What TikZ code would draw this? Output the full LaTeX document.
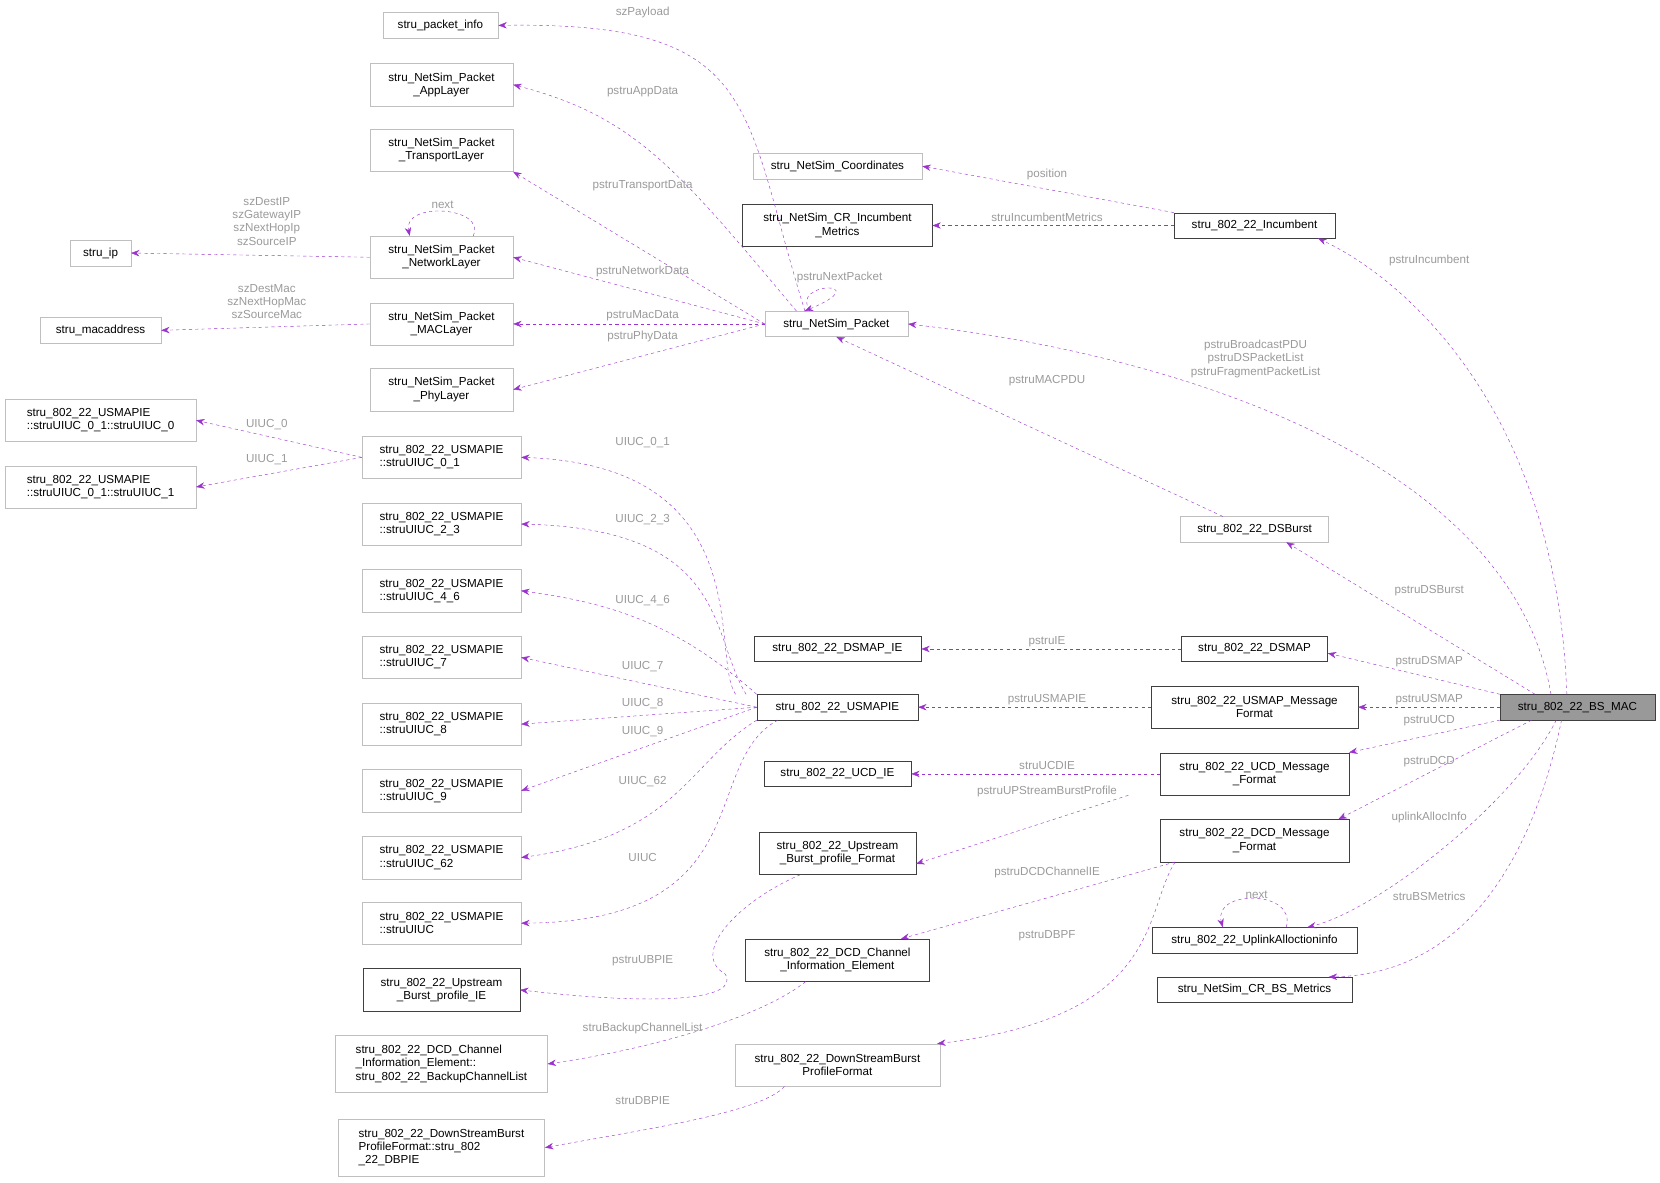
\documentclass[tikz,border=0pt]{standalone}
\usepackage{fontspec}
\setmainfont{Liberation Sans}
\usetikzlibrary{arrows.meta}
\definecolor{ep}{HTML}{9A32CD}
\definecolor{lg}{HTML}{9A9A9A}
\definecolor{lb}{HTML}{BFBFBF}
\definecolor{db}{HTML}{404040}
\tikzset{
 box/.style={draw=lb,fill=white,font=\fontsize{11}{12.5}\selectfont,inner sep=2pt,align=center},
 dbox/.style={box,draw=db},
 lbl/.style={text=lg,font=\fontsize{11}{12.5}\selectfont,inner sep=0pt,align=center},
 ed/.style={draw=ep,dashed,-{Stealth[length=8pt,width=6pt]}},
}
\begin{document}
\begin{tikzpicture}[x=1pt,y=-1pt]
\useasboundingbox (0,0) rectangle (1568,1117);
% left column
\node[box,minimum width=109,minimum height=24] (pi) at (416,24) {stru\_packet\_info};
\node[box,minimum width=135,minimum height=40] (app) at (417,80) {stru\_NetSim\_Packet\\\_AppLayer};
\node[box,minimum width=135,minimum height=40] (tr) at (417,142) {stru\_NetSim\_Packet\\\_TransportLayer};
\node[box,minimum width=135,minimum height=40] (nw) at (417,243) {stru\_NetSim\_Packet\\\_NetworkLayer};
\node[box,minimum width=135,minimum height=40] (mac) at (417,306) {stru\_NetSim\_Packet\\\_MACLayer};
\node[box,minimum width=135,minimum height=40] (phy) at (417,368) {stru\_NetSim\_Packet\\\_PhyLayer};
\node[box,minimum width=57,minimum height=24] (ip) at (95,239) {stru\_ip};
\node[box,minimum width=114,minimum height=24] (ma) at (95,312) {stru\_macaddress};
\node[box,minimum width=180,minimum height=40,align=left] (u010) at (95,397) {stru\_802\_22\_USMAPIE\\::struUIUC\_0\_1::struUIUC\_0};
\node[box,minimum width=180,minimum height=40,align=left] (u011) at (95,460) {stru\_802\_22\_USMAPIE\\::struUIUC\_0\_1::struUIUC\_1};
\node[box,minimum width=150,minimum height=40,align=left] (u01) at (417,432) {stru\_802\_22\_USMAPIE\\::struUIUC\_0\_1};
\node[box,minimum width=150,minimum height=40,align=left] (u23) at (417,495) {stru\_802\_22\_USMAPIE\\::struUIUC\_2\_3};
\node[box,minimum width=150,minimum height=40,align=left] (u46) at (417,558) {stru\_802\_22\_USMAPIE\\::struUIUC\_4\_6};
\node[box,minimum width=150,minimum height=40,align=left] (u7) at (417,621) {stru\_802\_22\_USMAPIE\\::struUIUC\_7};
\node[box,minimum width=150,minimum height=40,align=left] (u8) at (417,684) {stru\_802\_22\_USMAPIE\\::struUIUC\_8};
\node[box,minimum width=150,minimum height=40,align=left] (u9) at (417,747) {stru\_802\_22\_USMAPIE\\::struUIUC\_9};
\node[box,minimum width=150,minimum height=40,align=left] (u62) at (417,810) {stru\_802\_22\_USMAPIE\\::struUIUC\_62};
\node[box,minimum width=150,minimum height=40,align=left] (uu) at (417,872) {stru\_802\_22\_USMAPIE\\::struUIUC};
\node[dbox,minimum width=148,minimum height=40] (ubie) at (417,935) {stru\_802\_22\_Upstream\\\_Burst\_profile\_IE};
\node[box,minimum width=200,minimum height=54,align=left] (bcl) at (417,1005) {stru\_802\_22\_DCD\_Channel\\\_Information\_Element::\\stru\_802\_22\_BackupChannelList};
\node[box,minimum width=195,minimum height=54,align=left] (dbpie) at (417,1084) {stru\_802\_22\_DownStreamBurst\\ProfileFormat::stru\_802\\\_22\_DBPIE};
% middle column
\node[box,minimum width=160,minimum height=24] (co) at (791,157) {stru\_NetSim\_Coordinates};
\node[dbox,minimum width=179,minimum height=40] (im) at (791,213) {stru\_NetSim\_CR\_Incumbent\\\_Metrics};
\node[box,minimum width=135,minimum height=24] (pk) at (790,306) {stru\_NetSim\_Packet};
\node[dbox,minimum width=158,minimum height=24] (dsie) at (791,613) {stru\_802\_22\_DSMAP\_IE};
\node[dbox,minimum width=152,minimum height=24] (usie) at (791,668) {stru\_802\_22\_USMAPIE};
\node[dbox,minimum width=139,minimum height=24] (ucie) at (791,731) {stru\_802\_22\_UCD\_IE};
\node[dbox,minimum width=148,minimum height=40] (ubpf) at (791,806) {stru\_802\_22\_Upstream\\\_Burst\_profile\_Format};
\node[dbox,minimum width=174,minimum height=40] (dcie) at (791,907) {stru\_802\_22\_DCD\_Channel\\\_Information\_Element};
\node[box,minimum width=194,minimum height=40] (dbpf) at (791,1006) {stru\_802\_22\_DownStreamBurst\\ProfileFormat};
% right column
\node[dbox,minimum width=152,minimum height=24] (inc) at (1185,213) {stru\_802\_22\_Incumbent};
\node[box,minimum width=140,minimum height=24] (dsb) at (1185,500) {stru\_802\_22\_DSBurst};
\node[dbox,minimum width=138,minimum height=24] (dsm) at (1185,613) {stru\_802\_22\_DSMAP};
\node[dbox,minimum width=195,minimum height=40] (usm) at (1185,668) {stru\_802\_22\_USMAP\_Message\\Format};
\node[dbox,minimum width=178,minimum height=40] (ucd) at (1185,731) {stru\_802\_22\_UCD\_Message\\\_Format};
\node[dbox,minimum width=178,minimum height=40] (dcd) at (1185,794) {stru\_802\_22\_DCD\_Message\\\_Format};
\node[dbox,minimum width=194,minimum height=24] (ua) at (1185,888) {stru\_802\_22\_UplinkAlloctioninfo};
\node[dbox,minimum width=184,minimum height=24] (bsm) at (1185,935) {stru\_NetSim\_CR\_BS\_Metrics};
\node[dbox,fill=black!40,minimum width=146,minimum height=24] (bs) at (1490,668) {stru\_802\_22\_BS\_MAC};
% edges from packet
\draw[ed] (pk.north west) ++(38,0) .. controls (700,100) and (720,20) .. (pi.east);
\draw[ed] (pk.north west) ++(30,0) .. controls (640,160) and (600,110) .. (app.east);
\draw[ed] (pk.west) -- (tr.south east);
\draw[ed] (pk.west) -- (nw.east);
\draw[ed] (pk.west) -- (mac.east);
\draw[ed] (pk.west) -- (phy.east);
\draw[ed] (pk.north) ++(-25,0) .. controls (745,265) and (830,265) .. ([xshift=-30]pk.north);
\node[lbl] at (607,12) {szPayload};
\node[lbl] at (607,87) {pstruAppData};
\node[lbl] at (607,175) {pstruTransportData};
\node[lbl] at (607,256) {pstruNetworkData};
\node[lbl] at (607,298) {pstruMacData};
\node[lbl] at (607,318) {pstruPhyData};
\node[lbl] at (793,262) {pstruNextPacket};
% network / mac
\draw[ed] (nw.west) -- (ip.east);
\draw[ed] ([xshift=30]nw.north) .. controls (460,195) and (380,190) .. ([xshift=-30]nw.north);
\node[lbl] at (418,193) {next};
\node[lbl] at (252,209) {szDestIP\\szGatewayIP\\szNextHopIp\\szSourceIP};
\draw[ed] (mac.west) -- (ma.east);
\node[lbl] at (252,285) {szDestMac\\szNextHopMac\\szSourceMac};
\draw[ed] (u01.west) -- (u010.east);
\draw[ed] (u01.west) -- (u011.east);
\node[lbl] at (252,401) {UIUC\_0};
\node[lbl] at (252,434) {UIUC\_1};
% usmapie
\draw[ed] (usie.north west) ++(-20,0) .. controls (670,620) and (720,440) .. (u01.east);
\draw[ed] (usie.north west) ++(-10,0) .. controls (670,600) and (690,500) .. (u23.east);
\draw[ed] (usie.north west) .. controls (640,590) and (580,570) .. (u46.east);
\draw[ed] (usie.west) -- (u7.east);
\draw[ed] (usie.west) -- (u8.east);
\draw[ed] (usie.west) -- (u9.east);
\draw[ed] (usie.south west) .. controls (650,720) and (640,790) .. (u62.east);
\draw[ed] ([xshift=20]usie.south west) .. controls (660,720) and (720,870) .. (uu.east);
\node[lbl] at (607,418) {UIUC\_0\_1};
\node[lbl] at (607,491) {UIUC\_2\_3};
\node[lbl] at (607,567) {UIUC\_4\_6};
\node[lbl] at (607,630) {UIUC\_7};
\node[lbl] at (607,665) {UIUC\_8};
\node[lbl] at (607,691) {UIUC\_9};
\node[lbl] at (607,738) {UIUC\_62};
\node[lbl] at (607,810) {UIUC};
\draw[ed] ([xshift=-35]ubpf.south) .. controls (700,850) and (650,900) .. (685,920) .. controls (700,945) and (620,950) .. (ubie.east);
\node[lbl] at (607,907) {pstruUBPIE};
\draw[ed] ([xshift=-30]dcie.south) .. controls (720,960) and (620,990) .. (bcl.east);
\node[lbl] at (607,971) {struBackupChannelList};
\draw[ed] ([xshift=-50]dbpf.south) .. controls (720,1050) and (620,1065) .. (dbpie.east);
\node[lbl] at (607,1040) {struDBPIE};
% incumbent
\draw[ed] (inc.north west) -- (co.east);
\draw[ed] (inc.west) -- (im.east);
\node[lbl] at (989,165) {position};
\node[lbl] at (989,205) {struIncumbentMetrics};
\draw[ed] ([xshift=-30]dsb.north) -- (pk.south);
\node[lbl] at (989,360) {pstruMACPDU};
\draw[ed] (dsm.west) -- (dsie.east);
\node[lbl] at (989,606) {pstruIE};
\draw[ed] (usm.west) -- (usie.east);
\node[lbl] at (989,661) {pstruUSMAPIE};
\draw[ed] (ucd.west) -- (ucie.east);
\node[lbl] at (989,723) {struUCDIE};
\draw[ed] (ucd.south west) ++(-30,0) -- ([yshift=-10]ubpf.east);
\node[lbl] at (989,748) {pstruUPStreamBurstProfile};
\draw[ed] ([xshift=-75]dcd.south) -- ([xshift=60]dcie.north);
\node[lbl] at (989,824) {pstruDCDChannelIE};
\draw[ed] ([xshift=-75]dcd.south) .. controls (1080,860) and (1100,960) .. ([xshift=-3]dbpf.north east);
\node[lbl] at (989,884) {pstruDBPF};
\draw[ed] ([xshift=30]ua.north) .. controls (1225,840) and (1145,840) .. ([xshift=-30]ua.north);
\node[lbl] at (1187,845) {next};
% BS MAC
\draw[ed] ([xshift=-10]bs.north) .. controls (1470,380) and (1320,260) .. ([xshift=60]inc.south);
\node[lbl] at (1350,246) {pstruIncumbent};
\draw[ed] ([xshift=-25]bs.north) .. controls (1430,450) and (1150,340) .. (pk.east);
\node[lbl] at (1186,339) {pstruBroadcastPDU\\pstruDSPacketList\\pstruFragmentPacketList};
\draw[ed] ([xshift=-40]bs.north) -- ([xshift=30]dsb.south);
\node[lbl] at (1350,558) {pstruDSBurst};
\draw[ed] (bs.north west) -- ([yshift=-4]dsm.east);
\node[lbl] at (1350,625) {pstruDSMAP};
\draw[ed] (bs.west) -- (usm.east);
\node[lbl] at (1350,661) {pstruUSMAP};
\draw[ed] (bs.south west) -- (ucd.north east);
\node[lbl] at (1350,681) {pstruUCD};
\draw[ed] ([xshift=30]bs.south west) -- ([xshift=-10]dcd.north east);
\node[lbl] at (1350,719) {pstruDCD};
\draw[ed] ([xshift=-20]bs.south) .. controls (1430,760) and (1300,860) .. ([xshift=50]ua.north);
\node[lbl] at (1350,772) {uplinkAllocInfo};
\draw[ed] ([xshift=-15]bs.south) .. controls (1450,800) and (1390,920) .. ([xshift=70]bsm.north);
\node[lbl] at (1350,847) {struBSMetrics};
\end{tikzpicture}
\end{document}
